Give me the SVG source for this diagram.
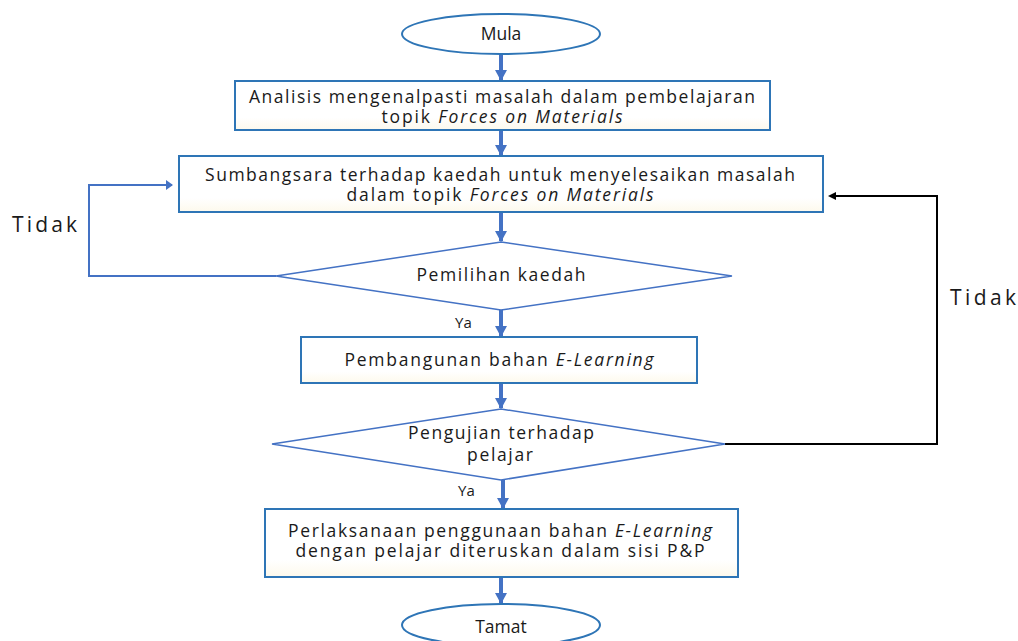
<svg xmlns="http://www.w3.org/2000/svg" width="1018" height="641" viewBox="0 0 1018 641">
<defs>
<linearGradient id="bf" x1="0" y1="0" x2="0" y2="1">
<stop offset="0" stop-color="#ffffff"/><stop offset="0.75" stop-color="#ffffff"/><stop offset="1" stop-color="#fdf9ec"/>
</linearGradient>
<marker id="ab" markerWidth="10" markerHeight="10" refX="6" refY="5" orient="auto" markerUnits="userSpaceOnUse" viewBox="0 0 10 10">
<path d="M0,0 L7,5 L0,10 Z" fill="#4472c4"/>
</marker>
<marker id="abig" markerWidth="12" markerHeight="12" refX="10" refY="6" orient="auto" markerUnits="userSpaceOnUse" viewBox="0 0 12 12">
<path d="M0,0 L11,6 L0,12 Z" fill="#4472c4"/>
</marker>
<marker id="ak" markerWidth="10" markerHeight="10" refX="6" refY="5" orient="auto" markerUnits="userSpaceOnUse" viewBox="0 0 10 10">
<path d="M0,1 L8,5 L0,9 Z" fill="#000"/>
</marker>
</defs>
<style>
.t{font-family:"Open Sans","Liberation Sans",sans-serif;font-size:17.5px;fill:#1a1a1a;text-anchor:middle}
.lbl{font-family:"Open Sans","Liberation Sans",sans-serif;font-size:21px;fill:#1a1a1a}
.ya{font-family:"Open Sans","Liberation Sans",sans-serif;font-size:15px;fill:#1a1a1a}
.box{fill:url(#bf);stroke:#2e75b6;stroke-width:2}
.ell{fill:#fff;stroke:#2e75b6;stroke-width:2}
.dia{fill:#fff;stroke:#4472c4;stroke-width:1.5}
.down{stroke:#4472c4;stroke-width:4;fill:none}
.loop{stroke:#4472c4;stroke-width:2;fill:none}
.loopk{stroke:#000;stroke-width:2;fill:none}
</style>
<rect width="1018" height="641" fill="#fff"/>
<g id="connectors">
<line class="down" x1="501" y1="54" x2="501" y2="80" marker-end="url(#abig)"/>
<line class="down" x1="501" y1="131" x2="501" y2="155" marker-end="url(#abig)"/>
<line class="down" x1="501" y1="213" x2="501" y2="241" marker-end="url(#abig)"/>
<line class="down" x1="501" y1="310" x2="501" y2="336" marker-end="url(#abig)"/>
<line class="down" x1="501" y1="384" x2="501" y2="408" marker-end="url(#abig)"/>
<line class="down" x1="503" y1="480" x2="503" y2="508" marker-end="url(#abig)"/>
<line class="down" x1="501" y1="578" x2="501" y2="603" marker-end="url(#abig)"/>
<polyline class="loop" points="276,276 89,276 89,185 172,185" marker-end="url(#ab)"/>
<polyline class="loopk" points="725,444 937,444 937,196 830,196" marker-end="url(#ak)"/>
<text class="lbl" x="12" y="232" textLength="65" lengthAdjust="spacing">Tidak</text>
<text class="lbl" x="950" y="305" textLength="66" lengthAdjust="spacing">Tidak</text>
<text class="ya" x="455" y="328">Ya</text>
<text class="ya" x="458" y="496">Ya</text>
</g>
<g id="mula">
<ellipse class="ell" cx="501" cy="34" rx="99" ry="20"/>
<text class="t" x="501" y="40">Mula</text>
</g>
<g id="analisis">
<rect class="box" x="235" y="81" width="535" height="49"/>
<text class="t" x="502" y="103" textLength="506" lengthAdjust="spacing">Analisis mengenalpasti masalah dalam pembelajaran</text>
<text class="t" x="502" y="123" textLength="241" lengthAdjust="spacing">topik <tspan font-style="italic">Forces on Materials</tspan></text>
</g>
<g id="sumbangsara">
<rect class="box" x="179" y="156" width="644" height="56"/>
<text class="t" x="500" y="181" textLength="590" lengthAdjust="spacing">Sumbangsara terhadap kaedah untuk menyelesaikan masalah</text>
<text class="t" x="500" y="201" textLength="307" lengthAdjust="spacing">dalam topik <tspan font-style="italic">Forces on Materials</tspan></text>
</g>
<g id="pemilihan">
<polygon class="dia" points="501,242 732,276 501,310 276,276"/>
<text class="t" x="501" y="281" textLength="169" lengthAdjust="spacing">Pemilihan kaedah</text>
</g>
<g id="pembangunan">
<rect class="box" x="301" y="337" width="396" height="46"/>
<text class="t" x="499" y="366" textLength="309" lengthAdjust="spacing">Pembangunan bahan <tspan font-style="italic">E-Learning</tspan></text>
</g>
<g id="pengujian">
<polygon class="dia" points="501,409 725,444 501,480 272,444"/>
<text class="t" x="501" y="439" textLength="186" lengthAdjust="spacing">Pengujian terhadap</text>
<text class="t" x="500" y="461" textLength="66" lengthAdjust="spacing">pelajar</text>
</g>
<g id="perlaksanaan">
<rect class="box" x="265" y="509" width="473" height="68"/>
<text class="t" x="500" y="537" textLength="424" lengthAdjust="spacing">Perlaksanaan penggunaan bahan <tspan font-style="italic">E-Learning</tspan></text>
<text class="t" x="500" y="557" textLength="409" lengthAdjust="spacing">dengan pelajar diteruskan dalam sisi P&amp;P</text>
</g>
<g id="tamat">
<ellipse class="ell" cx="501" cy="625" rx="99" ry="21"/>
<text class="t" x="501" y="633">Tamat</text>
</g>
</svg>
